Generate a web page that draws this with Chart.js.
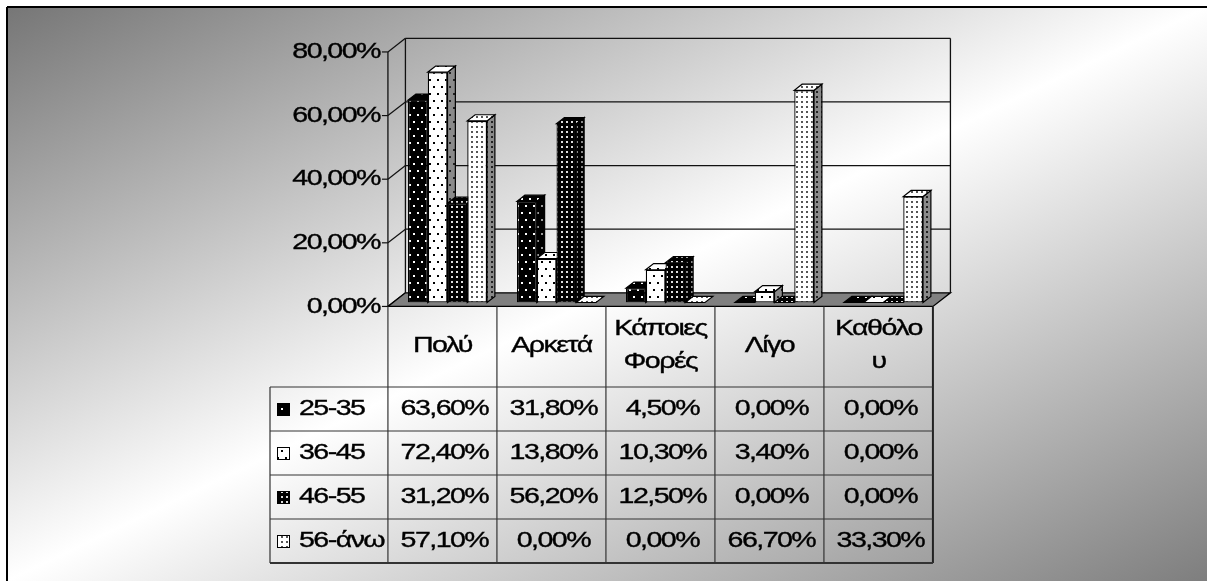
<!DOCTYPE html>
<html>
<head>
<meta charset="utf-8">
<script src="https://cdn.jsdelivr.net/npm/chart.js@4.4.0/dist/chart.umd.min.js"></script>
<style>
  html, body { margin: 0; padding: 0; background: #fff; overflow: hidden; }
  canvas { display: block; }
</style>
</head>
<body>
<canvas id="chart" width="1207" height="581"></canvas>
<script>
// data
const categories = [['Πολύ'], ['Αρκετά'], ['Κάποιες', 'Φορές'], ['Λίγο'], ['Καθόλο', 'υ']];
const seriesNames = ['25-35', '36-45', '46-55', '56-άνω'];
const age25_35 = [63.6, 31.8, 4.5, 0, 0];
const age36_45 = [72.4, 13.8, 10.3, 3.4, 0];
const age46_55 = [31.2, 56.2, 12.5, 0, 0];
const age56up  = [57.1, 0, 0, 66.7, 33.3];
const yTicks = [0, 20, 40, 60, 80];

const fmt = v => v.toFixed(2).replace('.', ',') + '%';

// 3D look: depth vector and where bars sit inside the depth
const DEPTH = { x: 17.5, y: -13.6 };
const FRONT = -0.29, BACK = 0.71, BAR_D = 0.45;
const SX = 1.3; // the original text is stretched wide and set tight
const FONT = '22px "Liberation Sans", Arial, sans-serif';

const canvas = document.getElementById('chart');
const ctx = canvas.getContext('2d');

function tile(w, h, bg, fg, pts, s) {
  const c = document.createElement('canvas');
  c.width = w; c.height = h;
  const g = c.getContext('2d');
  g.fillStyle = bg; g.fillRect(0, 0, w, h);
  g.fillStyle = fg;
  pts.forEach(p => g.fillRect(p[0], p[1], s, s));
  return ctx.createPattern(c, 'repeat');
}
const sparse = [[1, 2], [5, 9]];
const dense = [[1, 1]];
const looks = [
  { front: tile(8, 14, '#000', '#fff', sparse, 2), side: tile(8, 14, '#000', '#999', sparse, 2) },
  { front: tile(8, 14, '#fff', '#000', sparse, 2), side: tile(8, 14, '#8a8a8a', '#222', sparse, 2) },
  { front: tile(5, 5, '#000', '#ddd', dense, 2), side: tile(5, 5, '#000', '#888', dense, 2) },
  { front: tile(5, 5, '#fff', '#555', dense, 2), side: tile(5, 5, '#8a8a8a', '#222', dense, 2) }
];

function txt(s, x, y, align) {
  ctx.save();
  ctx.translate(x, y);
  ctx.scale(SX, 1);
  ctx.font = FONT;
  ctx.letterSpacing = '-1.2px';
  ctx.fillStyle = '#000';
  ctx.strokeStyle = '#000';
  ctx.lineWidth = 0.35;
  ctx.textAlign = align || 'center';
  ctx.textBaseline = 'middle';
  ctx.fillText(s, 0, 0);
  ctx.strokeText(s, 0, 0);
  ctx.restore();
}

function poly(pts, fill, stroke, lw) {
  ctx.beginPath();
  ctx.moveTo(pts[0][0], pts[0][1]);
  for (let i = 1; i < pts.length; i++) ctx.lineTo(pts[i][0], pts[i][1]);
  ctx.closePath();
  if (fill) { ctx.fillStyle = fill; ctx.fill(); }
  if (stroke) { ctx.strokeStyle = stroke; ctx.lineWidth = lw || 1; ctx.stroke(); }
}

function line(x1, y1, x2, y2, c, w) {
  ctx.beginPath();
  ctx.moveTo(x1, y1); ctx.lineTo(x2, y2);
  ctx.strokeStyle = c || '#000'; ctx.lineWidth = w || 1;
  ctx.stroke();
}

const TABLE_LEFT = 270, HEAD_BOTTOM = 387, ROW_H = 44;

const scene = {
  id: 'scene',
  beforeDraw(chart) {
    const W = chart.width, H = chart.height;
    // diagonal grey-white-grey background
    ctx.save();
    ctx.translate(7, 7);
    ctx.scale(W - 7, H - 7);
    const g = ctx.createLinearGradient(0, 0, 1, 1);
    g.addColorStop(0, '#767676');
    g.addColorStop(0.5, '#ffffff');
    g.addColorStop(1, '#7e7e7e');
    ctx.fillStyle = g;
    ctx.fillRect(0, 0, 1, 1);
    ctx.restore();
    line(7, 7, W, 7, '#000', 2);
    line(7, 7, 7, H, '#000', 2);

    const a = chart.chartArea, ys = chart.scales.y;
    const fx = DEPTH.x * FRONT, fy = DEPTH.y * FRONT;
    const bx = DEPTH.x * BACK, by = DEPTH.y * BACK;
    const top = ys.getPixelForValue(yTicks[yTicks.length - 1]);
    const base = ys.getPixelForValue(0);

    // back wall + grid
    yTicks.forEach(t => {
      const y = ys.getPixelForValue(t) + by;
      if (t > 0) line(a.left + bx, y, a.right + bx, y, '#111', 1.3);
    });
    line(a.left + bx, top + by, a.left + bx, base + by, '#111', 1.3);
    line(a.right + bx, top + by, a.right + bx, base + by, '#111', 1.3);

    // side wall: front axis and diagonals
    line(a.left + fx, top + fy, a.left + fx, base + fy, '#111', 1.3);
    yTicks.forEach(t => {
      const y = ys.getPixelForValue(t);
      line(a.left + fx, y + fy, a.left + bx, y + by, '#111', 1.2);
      line(a.left + fx - 6, y + fy, a.left + fx, y + fy, '#111', 1.2);
      txt(fmt(t), a.left + fx - 8, y + fy, 'right');
    });

    // floor
    poly([[a.left + fx, base + fy], [a.right + fx, base + fy],
          [a.right + bx, base + by], [a.left + bx, base + by]], '#808080', '#000', 1.3);
  },
  beforeDatasetsDraw(chart) {
    const dx = DEPTH.x * BAR_D, dy = DEPTH.y * BAR_D;
    for (let j = 0; j < categories.length; j++) {
      chart.data.datasets.forEach((ds, i) => {
        const el = chart.getDatasetMeta(i).data[j];
        const p = el.getProps(['x', 'y', 'base', 'width'], true);
        const l = p.x - p.width / 2, r = p.x + p.width / 2;
        if (p.base - p.y > 0.5) {
          poly([[r, p.base], [r + dx, p.base + dy], [r + dx, p.y + dy], [r, p.y]], looks[i].side, '#000', 1.2);
        }
        poly([[l, p.y], [r, p.y], [r + dx, p.y + dy], [l + dx, p.y + dy]], looks[i].front, '#000', 1.2);
      });
    }
  },
  afterDraw(chart) {
    const xs = chart.scales.x, ys = chart.scales.y;
    const fx = DEPTH.x * FRONT, fy = DEPTH.y * FRONT;
    const floorY = ys.getPixelForValue(0) + fy;
    const half = (xs.getPixelForValue(1) - xs.getPixelForValue(0)) / 2;
    const bottom = HEAD_BOTTOM + ROW_H * seriesNames.length;
    const right = xs.getPixelForValue(categories.length - 1) + half + fx;

    // grid of the data table
    for (let j = 0; j <= categories.length; j++) {
      const x = xs.getPixelForValue(0) - half + fx + j * half * 2;
      line(x, floorY, x, bottom, j === categories.length ? '#222' : '#333', j === categories.length ? 2 : 1.2);
    }
    for (let r = 0; r <= seriesNames.length; r++) {
      const y = HEAD_BOTTOM + r * ROW_H;
      line(TABLE_LEFT, y, right, y, '#333', r === seriesNames.length ? 2 : 1.2);
    }
    line(TABLE_LEFT, HEAD_BOTTOM, TABLE_LEFT, bottom, '#333', 1.2);

    // header
    categories.forEach((c, j) => {
      const x = xs.getPixelForValue(j) + fx;
      const mid = (floorY + HEAD_BOTTOM) / 2 - 1;
      if (c.length === 1) txt(c[0], x, mid);
      else { txt(c[0], x, mid - 16.5); txt(c[1], x, mid + 16.5); }
    });

    // rows
    chart.data.datasets.forEach((ds, i) => {
      const cy = HEAD_BOTTOM + i * ROW_H + ROW_H / 2;
      ctx.fillStyle = looks[i].front;
      ctx.fillRect(277, cy - 6, 13, 13);
      ctx.strokeStyle = '#000'; ctx.lineWidth = 1;
      ctx.strokeRect(277.5, cy - 5.5, 12, 12);
      txt(ds.label, 299, cy, 'left');
      ds.data.forEach((v, j) => txt(fmt(v), xs.getPixelForValue(j) + fx + 2, cy));
    });
  }
};

const seriesValues = [age25_35, age36_45, age46_55, age56up];

function build() {
  new Chart(ctx, {
    type: 'bar',
    data: {
      labels: categories,
      datasets: seriesNames.map((name, i) => ({
        label: name,
        data: seriesValues[i],
        backgroundColor: looks[i].front,
        borderColor: '#000',
        borderWidth: 1.3,
        borderSkipped: false,
        barPercentage: 1,
        categoryPercentage: 0.725
      }))
    },
    options: {
      responsive: false,
      animation: false,
      devicePixelRatio: 1,
      layout: { padding: { left: 393, right: 269, top: 48, bottom: 278.5 } },
      scales: {
        x: { display: false },
        y: { display: false, min: 0, max: 80 }
      },
      plugins: { legend: { display: false }, tooltip: { enabled: false } }
    },
    plugins: [scene]
  });
}

if (document.fonts && document.fonts.load) {
  document.fonts.load(FONT, 'Πολύ 0,00%').then(build, build);
} else {
  build();
}
</script>
</body>
</html>
